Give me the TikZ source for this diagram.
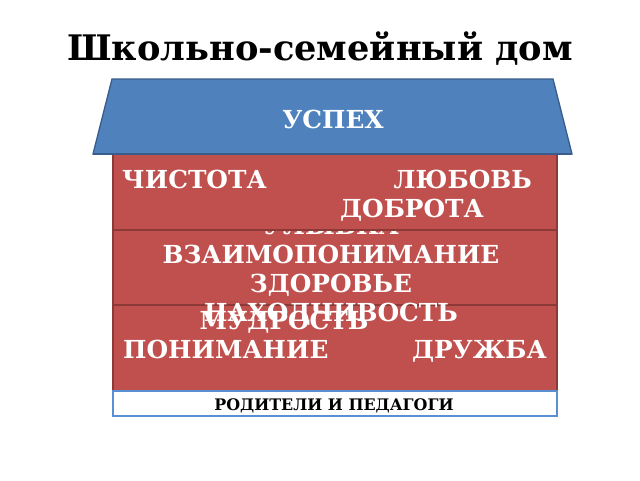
\documentclass[tikz,border=0pt]{standalone}
\usepackage{fontspec}
\setmainfont{DejaVu Serif}
\definecolor{roofblue}{HTML}{4F81BD}
\definecolor{roofedge}{HTML}{385D8A}
\definecolor{wallred}{HTML}{C0504D}
\definecolor{walledge}{HTML}{8C3A38}
\definecolor{baseedge}{HTML}{5B8FD3}
\tikzset{
  band/.style={fill=wallred, draw=walledge, line width=1.2pt},
  word/.style={text=white, font=\fontsize{24.8}{29}\selectfont\bfseries, inner sep=0pt},
}
\begin{document}
\begin{tikzpicture}[x=1pt,y=-1pt]
\useasboundingbox (0,0) rectangle (640,480);
\fill[white] (0,0) rectangle (640,480);
% title
\node[anchor=base, inner sep=0pt, font=\fontsize{35.2}{40}\selectfont\bfseries] (title) at (320,60) {Школьно-семейный дом};
% roof
\filldraw[fill=roofblue, draw=roofedge, line width=1.3pt] (112,79) -- (553,79) -- (572,154) -- (93,154) -- cycle;
\node[word, anchor=base] (uspeh) at (333,128) {УСПЕХ};
% bottom band
\draw[band] (113,305) rectangle (557,391);
\node[word, anchor=base] (mudrost) at (284,329) {МУДРОСТЬ};
\node[word, anchor=base west] (ponim) at (123,358) {ПОНИМАНИЕ};
\node[word, anchor=base east] (druzhba) at (547,358) {ДРУЖБА};
% middle band
\draw[band] (113,230) rectangle (557,305);
\node[word, anchor=base] (ulybka) at (331,234) {УЛЫБКА};
\node[word, anchor=base] (vzaimo) at (331,263) {ВЗАИМОПОНИМАНИЕ};
\node[word, anchor=base] (zdorov) at (331,292) {ЗДОРОВЬЕ};
\node[word, anchor=base] (nahod) at (331,321) {НАХОДЧИВОСТЬ};
% top band
\draw[band] (113,154) rectangle (557,230);
\node[word, anchor=base west] (chistota) at (122,188) {ЧИСТОТА};
\node[word, anchor=base east] (lyubov) at (532,188) {ЛЮБОВЬ};
\node[word, anchor=base] (dobrota) at (412,217) {ДОБРОТА};
% roof edge over wall top
\draw[roofedge, line width=1.3pt] (93,154) -- (572,154);
% base bar
\filldraw[fill=white, draw=baseedge, line width=1.5pt] (113,391) rectangle (557,416);
\node[anchor=base, inner sep=0pt, font=\fontsize{15.9}{18}\selectfont\bfseries] (base) at (334,410) {РОДИТЕЛИ И ПЕДАГОГИ};
\end{tikzpicture}
\end{document}
